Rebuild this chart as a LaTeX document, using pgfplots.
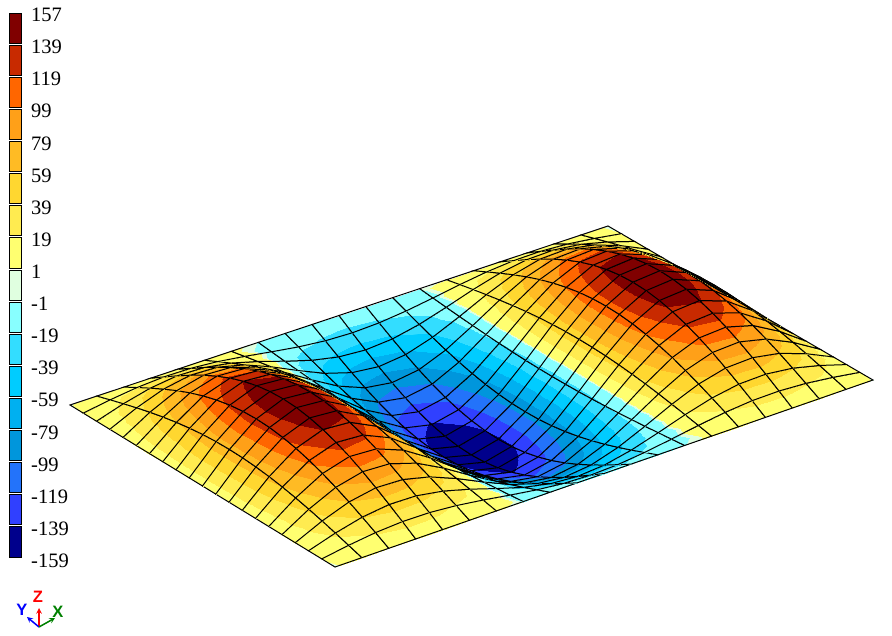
\documentclass[border=0pt]{standalone}
\usepackage{fontspec}
\setmainfont{Liberation Serif}
\setsansfont{Liberation Sans}
\usepackage{pgfplots}
\usepackage{pgfplotstable}
\pgfplotsset{compat=1.18}
\pgfplotstableread{
x y z m
0 0 0 0.4
1 0 0 3.6
2 0 0 6.4
3 0 0 7.9
4 0 0 7.6
5 0 0 5.6
6 0 0 2.5
7 0 0 -1.2
8 0 0 -4.7
9 0 0 -7.1
10 0 0 -8
11 0 0 -7.1
12 0 0 -4.7
13 0 0 -1.2
14 0 0 2.5
15 0 0 5.6
16 0 0 7.6
17 0 0 7.9
18 0 0 6.4
19 0 0 3.6
20 0 0 0.4
0 1 0 1.2
1 1 11.3 11.3
2 1 20.1 20.1
3 1 24.5 24.5
4 1 23.6 23.6
5 1 17.5 17.5
6 1 7.7 7.7
7 1 -3.9 -3.9
8 1 -14.6 -14.6
9 1 -22.1 -22.1
10 1 -24.8 -24.8
11 1 -22.1 -22.1
12 1 -14.6 -14.6
13 1 -3.9 -3.9
14 1 7.7 7.7
15 1 17.5 17.5
16 1 23.6 23.6
17 1 24.5 24.5
18 1 20.1 20.1
19 1 11.3 11.3
20 1 0 1.2
0 2 0 2.5
1 2 22.3 22.3
2 2 39.7 39.7
3 2 48.5 48.5
4 2 46.7 46.7
5 2 34.7 34.7
6 2 15.2 15.2
7 2 -7.7 -7.7
8 2 -28.9 -28.9
9 2 -43.8 -43.8
10 2 -49.1 -49.1
11 2 -43.8 -43.8
12 2 -28.9 -28.9
13 2 -7.7 -7.7
14 2 15.2 15.2
15 2 34.7 34.7
16 2 46.7 46.7
17 2 48.5 48.5
18 2 39.7 39.7
19 2 22.3 22.3
20 2 0 2.5
0 3 0 3.6
1 3 32.8 32.8
2 3 58.4 58.4
3 3 71.3 71.3
4 3 68.6 68.6
5 3 51.0 51.0
6 3 22.3 22.3
7 3 -11.3 -11.3
8 3 -42.4 -42.4
9 3 -64.3 -64.3
10 3 -72.2 -72.2
11 3 -64.3 -64.3
12 3 -42.4 -42.4
13 3 -11.3 -11.3
14 3 22.3 22.3
15 3 51.0 51.0
16 3 68.6 68.6
17 3 71.3 71.3
18 3 58.4 58.4
19 3 32.8 32.8
20 3 0 3.6
0 4 0 4.7
1 4 42.5 42.5
2 4 75.6 75.6
3 4 92.4 92.4
4 4 88.9 88.9
5 4 66.1 66.1
6 4 28.9 28.9
7 4 -14.6 -14.6
8 4 -55.0 -55.0
9 4 -83.3 -83.3
10 4 -93.5 -93.5
11 4 -83.3 -83.3
12 4 -55.0 -55.0
13 4 -14.6 -14.6
14 4 28.9 28.9
15 4 66.1 66.1
16 4 88.9 88.9
17 4 92.4 92.4
18 4 75.6 75.6
19 4 42.5 42.5
20 4 0 4.7
0 5 0 5.7
1 5 51.0 51.0
2 5 90.9 90.9
3 5 111.1 111.1
4 5 106.9 106.9
5 5 79.5 79.5
6 5 34.7 34.7
7 5 -17.5 -17.5
8 5 -66.1 -66.1
9 5 -100.2 -100.2
10 5 -112.4 -112.4
11 5 -100.2 -100.2
12 5 -66.1 -66.1
13 5 -17.5 -17.5
14 5 34.7 34.7
15 5 79.5 79.5
16 5 106.9 106.9
17 5 111.1 111.1
18 5 90.9 90.9
19 5 51.0 51.0
20 5 0 5.7
0 6 0 6.5
1 6 58.4 58.4
2 6 104.0 104.0
3 6 127.1 127.1
4 6 122.3 122.3
5 6 90.9 90.9
6 6 39.7 39.7
7 6 -20.1 -20.1
8 6 -75.6 -75.6
9 6 -114.6 -114.6
10 6 -128.6 -128.6
11 6 -114.6 -114.6
12 6 -75.6 -75.6
13 6 -20.1 -20.1
14 6 39.7 39.7
15 6 90.9 90.9
16 6 122.3 122.3
17 6 127.1 127.1
18 6 104.0 104.0
19 6 58.4 58.4
20 6 0 6.5
0 7 0 7.1
1 7 64.3 64.3
2 7 114.6 114.6
3 7 140.0 140.0
4 7 134.7 134.7
5 7 100.1 100.1
6 7 43.7 43.7
7 7 -22.1 -22.1
8 7 -83.3 -83.3
9 7 -126.3 -126.3
10 7 -141.7 -141.7
11 7 -126.3 -126.3
12 7 -83.3 -83.3
13 7 -22.1 -22.1
14 7 43.7 43.7
15 7 100.1 100.1
16 7 134.7 134.7
17 7 140.0 140.0
18 7 114.6 114.6
19 7 64.3 64.3
20 7 0 7.1
0 8 0 7.6
1 8 68.7 68.7
2 8 122.3 122.3
3 8 149.4 149.4
4 8 143.8 143.8
5 8 106.9 106.9
6 8 46.7 46.7
7 8 -23.6 -23.6
8 8 -88.9 -88.9
9 8 -134.8 -134.8
10 8 -151.2 -151.2
11 8 -134.8 -134.8
12 8 -88.9 -88.9
13 8 -23.6 -23.6
14 8 46.7 46.7
15 8 106.9 106.9
16 8 143.8 143.8
17 8 149.4 149.4
18 8 122.3 122.3
19 8 68.7 68.7
20 8 0 7.6
0 9 0 7.9
1 9 71.3 71.3
2 9 127.1 127.1
3 9 155.2 155.2
4 9 149.4 149.4
5 9 111.1 111.1
6 9 48.5 48.5
7 9 -24.5 -24.5
8 9 -92.4 -92.4
9 9 -140.0 -140.0
10 9 -157.1 -157.1
11 9 -140.0 -140.0
12 9 -92.4 -92.4
13 9 -24.5 -24.5
14 9 48.5 48.5
15 9 111.1 111.1
16 9 149.4 149.4
17 9 155.2 155.2
18 9 127.1 127.1
19 9 71.3 71.3
20 9 0 7.9
0 10 0 8
1 10 72.2 72.2
2 10 128.6 128.6
3 10 157.1 157.1
4 10 151.2 151.2
5 10 112.4 112.4
6 10 49.1 49.1
7 10 -24.8 -24.8
8 10 -93.5 -93.5
9 10 -141.7 -141.7
10 10 -159 -159
11 10 -141.7 -141.7
12 10 -93.5 -93.5
13 10 -24.8 -24.8
14 10 49.1 49.1
15 10 112.4 112.4
16 10 151.2 151.2
17 10 157.1 157.1
18 10 128.6 128.6
19 10 72.2 72.2
20 10 0 8
0 11 0 7.9
1 11 71.3 71.3
2 11 127.1 127.1
3 11 155.2 155.2
4 11 149.4 149.4
5 11 111.1 111.1
6 11 48.5 48.5
7 11 -24.5 -24.5
8 11 -92.4 -92.4
9 11 -140.0 -140.0
10 11 -157.1 -157.1
11 11 -140.0 -140.0
12 11 -92.4 -92.4
13 11 -24.5 -24.5
14 11 48.5 48.5
15 11 111.1 111.1
16 11 149.4 149.4
17 11 155.2 155.2
18 11 127.1 127.1
19 11 71.3 71.3
20 11 0 7.9
0 12 0 7.6
1 12 68.7 68.7
2 12 122.3 122.3
3 12 149.4 149.4
4 12 143.8 143.8
5 12 106.9 106.9
6 12 46.7 46.7
7 12 -23.6 -23.6
8 12 -88.9 -88.9
9 12 -134.8 -134.8
10 12 -151.2 -151.2
11 12 -134.8 -134.8
12 12 -88.9 -88.9
13 12 -23.6 -23.6
14 12 46.7 46.7
15 12 106.9 106.9
16 12 143.8 143.8
17 12 149.4 149.4
18 12 122.3 122.3
19 12 68.7 68.7
20 12 0 7.6
0 13 0 7.1
1 13 64.3 64.3
2 13 114.6 114.6
3 13 140.0 140.0
4 13 134.7 134.7
5 13 100.1 100.1
6 13 43.7 43.7
7 13 -22.1 -22.1
8 13 -83.3 -83.3
9 13 -126.3 -126.3
10 13 -141.7 -141.7
11 13 -126.3 -126.3
12 13 -83.3 -83.3
13 13 -22.1 -22.1
14 13 43.7 43.7
15 13 100.1 100.1
16 13 134.7 134.7
17 13 140.0 140.0
18 13 114.6 114.6
19 13 64.3 64.3
20 13 0 7.1
0 14 0 6.5
1 14 58.4 58.4
2 14 104.0 104.0
3 14 127.1 127.1
4 14 122.3 122.3
5 14 90.9 90.9
6 14 39.7 39.7
7 14 -20.1 -20.1
8 14 -75.6 -75.6
9 14 -114.6 -114.6
10 14 -128.6 -128.6
11 14 -114.6 -114.6
12 14 -75.6 -75.6
13 14 -20.1 -20.1
14 14 39.7 39.7
15 14 90.9 90.9
16 14 122.3 122.3
17 14 127.1 127.1
18 14 104.0 104.0
19 14 58.4 58.4
20 14 0 6.5
0 15 0 5.7
1 15 51.0 51.0
2 15 90.9 90.9
3 15 111.1 111.1
4 15 106.9 106.9
5 15 79.5 79.5
6 15 34.7 34.7
7 15 -17.5 -17.5
8 15 -66.1 -66.1
9 15 -100.2 -100.2
10 15 -112.4 -112.4
11 15 -100.2 -100.2
12 15 -66.1 -66.1
13 15 -17.5 -17.5
14 15 34.7 34.7
15 15 79.5 79.5
16 15 106.9 106.9
17 15 111.1 111.1
18 15 90.9 90.9
19 15 51.0 51.0
20 15 0 5.7
0 16 0 4.7
1 16 42.5 42.5
2 16 75.6 75.6
3 16 92.4 92.4
4 16 88.9 88.9
5 16 66.1 66.1
6 16 28.9 28.9
7 16 -14.6 -14.6
8 16 -55.0 -55.0
9 16 -83.3 -83.3
10 16 -93.5 -93.5
11 16 -83.3 -83.3
12 16 -55.0 -55.0
13 16 -14.6 -14.6
14 16 28.9 28.9
15 16 66.1 66.1
16 16 88.9 88.9
17 16 92.4 92.4
18 16 75.6 75.6
19 16 42.5 42.5
20 16 0 4.7
0 17 0 3.6
1 17 32.8 32.8
2 17 58.4 58.4
3 17 71.3 71.3
4 17 68.6 68.6
5 17 51.0 51.0
6 17 22.3 22.3
7 17 -11.3 -11.3
8 17 -42.4 -42.4
9 17 -64.3 -64.3
10 17 -72.2 -72.2
11 17 -64.3 -64.3
12 17 -42.4 -42.4
13 17 -11.3 -11.3
14 17 22.3 22.3
15 17 51.0 51.0
16 17 68.6 68.6
17 17 71.3 71.3
18 17 58.4 58.4
19 17 32.8 32.8
20 17 0 3.6
0 18 0 2.5
1 18 22.3 22.3
2 18 39.7 39.7
3 18 48.5 48.5
4 18 46.7 46.7
5 18 34.7 34.7
6 18 15.2 15.2
7 18 -7.7 -7.7
8 18 -28.9 -28.9
9 18 -43.8 -43.8
10 18 -49.1 -49.1
11 18 -43.8 -43.8
12 18 -28.9 -28.9
13 18 -7.7 -7.7
14 18 15.2 15.2
15 18 34.7 34.7
16 18 46.7 46.7
17 18 48.5 48.5
18 18 39.7 39.7
19 18 22.3 22.3
20 18 0 2.5
0 19 0 1.2
1 19 11.3 11.3
2 19 20.1 20.1
3 19 24.5 24.5
4 19 23.6 23.6
5 19 17.5 17.5
6 19 7.7 7.7
7 19 -3.9 -3.9
8 19 -14.6 -14.6
9 19 -22.1 -22.1
10 19 -24.8 -24.8
11 19 -22.1 -22.1
12 19 -14.6 -14.6
13 19 -3.9 -3.9
14 19 7.7 7.7
15 19 17.5 17.5
16 19 23.6 23.6
17 19 24.5 24.5
18 19 20.1 20.1
19 19 11.3 11.3
20 19 0 1.2
0 20 0 0.4
1 20 0 3.6
2 20 0 6.4
3 20 0 7.9
4 20 0 7.6
5 20 0 5.6
6 20 0 2.5
7 20 0 -1.2
8 20 0 -4.7
9 20 0 -7.1
10 20 0 -8
11 20 0 -7.1
12 20 0 -4.7
13 20 0 -1.2
14 20 0 2.5
15 20 0 5.6
16 20 0 7.6
17 20 0 7.9
18 20 0 6.4
19 20 0 3.6
20 20 0 0.4
}\platedata
\pgfplotsset{
  colormap={plate}{
    rgb255(0)=(0,0,140) rgb255(199)=(0,0,140)
    rgb255(200)=(48,64,255) rgb255(399)=(48,64,255)
    rgb255(400)=(35,115,250) rgb255(599)=(35,115,250)
    rgb255(600)=(0,150,220) rgb255(799)=(0,150,220)
    rgb255(800)=(0,176,240) rgb255(999)=(0,176,240)
    rgb255(1000)=(0,204,255) rgb255(1199)=(0,204,255)
    rgb255(1200)=(51,221,255) rgb255(1399)=(51,221,255)
    rgb255(1400)=(136,255,255) rgb255(1579)=(136,255,255)
    rgb255(1580)=(224,255,224) rgb255(1599)=(224,255,224)
    rgb255(1600)=(255,255,112) rgb255(1779)=(255,255,112)
    rgb255(1780)=(255,235,80) rgb255(1979)=(255,235,80)
    rgb255(1980)=(255,215,48) rgb255(2179)=(255,215,48)
    rgb255(2180)=(255,187,36) rgb255(2379)=(255,187,36)
    rgb255(2380)=(255,160,24) rgb255(2579)=(255,160,24)
    rgb255(2580)=(255,102,0) rgb255(2779)=(255,102,0)
    rgb255(2780)=(200,42,0) rgb255(2979)=(200,42,0)
    rgb255(2980)=(128,0,0) rgb255(3160)=(128,0,0)
  }
}
\begin{document}
\begin{tikzpicture}
\path[use as bounding box] (0pt,0pt) rectangle (892pt,635pt);
% plate
\begin{axis}[
  at={(70pt,230pt)}, anchor=origin,
  x={(26.9pt,8.95pt)}, y={(13.25pt,-8.1pt)}, z={(0pt,0.38pt)},
  xmin=0,xmax=20,ymin=0,ymax=20,zmin=-165,zmax=165,
  hide axis, clip=false,
  colormap name=plate, point meta min=-159, point meta max=157,
]
\addplot3[surf, shader=faceted interp, faceted color=black, line width=1pt,
  mesh/rows=21, mesh/cols=21, mesh/ordering=x varies,
  point meta=\thisrow{m}]
  table[x=x,y=y,z expr=\thisrow{z}+21*\thisrow{x}*\thisrow{y}/400] {\platedata};
\end{axis}
% legend
\begin{axis}[
  at={(9pt,62pt)}, anchor=south west,
  width=12pt, height=576pt, scale only axis,
  xmin=0,xmax=1,ymin=-0.5,ymax=17.44,
  axis line style={draw=none}, xtick=\empty,
  ytick={-0.12,0.88,1.88,2.88,3.88,4.88,5.88,6.88,7.88,8.88,9.88,10.88,11.88,12.88,13.88,14.88,15.88,16.88},
  yticklabels={-159,-139,-119,-99,-79,-59,-39,-19,-1,1,19,39,59,79,99,119,139,157},
  yticklabel pos=right, major tick length=0pt,
  yticklabel style={font=\fontsize{20.5}{20.5}\selectfont, anchor=west, inner sep=0pt, xshift=10pt},
  clip=false,
]
\addplot[fill={rgb,255:red,0;green,0;blue,140},draw=black,line width=0.8pt] coordinates {(0,0)(1,0)(1,0.94)(0,0.94)} --cycle;
\addplot[fill={rgb,255:red,48;green,64;blue,255},draw=black,line width=0.8pt] coordinates {(0,1)(1,1)(1,1.94)(0,1.94)} --cycle;
\addplot[fill={rgb,255:red,35;green,115;blue,250},draw=black,line width=0.8pt] coordinates {(0,2)(1,2)(1,2.94)(0,2.94)} --cycle;
\addplot[fill={rgb,255:red,0;green,150;blue,220},draw=black,line width=0.8pt] coordinates {(0,3)(1,3)(1,3.94)(0,3.94)} --cycle;
\addplot[fill={rgb,255:red,0;green,176;blue,240},draw=black,line width=0.8pt] coordinates {(0,4)(1,4)(1,4.94)(0,4.94)} --cycle;
\addplot[fill={rgb,255:red,0;green,204;blue,255},draw=black,line width=0.8pt] coordinates {(0,5)(1,5)(1,5.94)(0,5.94)} --cycle;
\addplot[fill={rgb,255:red,51;green,221;blue,255},draw=black,line width=0.8pt] coordinates {(0,6)(1,6)(1,6.94)(0,6.94)} --cycle;
\addplot[fill={rgb,255:red,136;green,255;blue,255},draw=black,line width=0.8pt] coordinates {(0,7)(1,7)(1,7.94)(0,7.94)} --cycle;
\addplot[fill={rgb,255:red,224;green,255;blue,224},draw=black,line width=0.8pt] coordinates {(0,8)(1,8)(1,8.94)(0,8.94)} --cycle;
\addplot[fill={rgb,255:red,255;green,255;blue,112},draw=black,line width=0.8pt] coordinates {(0,9)(1,9)(1,9.94)(0,9.94)} --cycle;
\addplot[fill={rgb,255:red,255;green,235;blue,80},draw=black,line width=0.8pt] coordinates {(0,10)(1,10)(1,10.94)(0,10.94)} --cycle;
\addplot[fill={rgb,255:red,255;green,215;blue,48},draw=black,line width=0.8pt] coordinates {(0,11)(1,11)(1,11.94)(0,11.94)} --cycle;
\addplot[fill={rgb,255:red,255;green,187;blue,36},draw=black,line width=0.8pt] coordinates {(0,12)(1,12)(1,12.94)(0,12.94)} --cycle;
\addplot[fill={rgb,255:red,255;green,160;blue,24},draw=black,line width=0.8pt] coordinates {(0,13)(1,13)(1,13.94)(0,13.94)} --cycle;
\addplot[fill={rgb,255:red,255;green,102;blue,0},draw=black,line width=0.8pt] coordinates {(0,14)(1,14)(1,14.94)(0,14.94)} --cycle;
\addplot[fill={rgb,255:red,200;green,42;blue,0},draw=black,line width=0.8pt] coordinates {(0,15)(1,15)(1,15.94)(0,15.94)} --cycle;
\addplot[fill={rgb,255:red,128;green,0;blue,0},draw=black,line width=0.8pt] coordinates {(0,16)(1,16)(1,16.94)(0,16.94)} --cycle;
\end{axis}
% triad
\draw[red,line width=1.5pt,-stealth] (39pt,8pt) -- (39pt,27pt);
\draw[blue,line width=1.5pt,-stealth] (39pt,8pt) -- (27pt,18pt);
\draw[green!50!black,line width=1.5pt,-stealth] (39pt,8pt) -- (55pt,17pt);
\node[red,font=\fontsize{16.5}{16.5}\sffamily\bfseries] at (38pt,38pt) {Z};
\node[blue,font=\fontsize{16.5}{16.5}\sffamily\bfseries] at (22pt,25pt) {Y};
\node[green!50!black,font=\fontsize{16.5}{16.5}\sffamily\bfseries] at (58pt,23pt) {X};
\end{tikzpicture}
\end{document}
